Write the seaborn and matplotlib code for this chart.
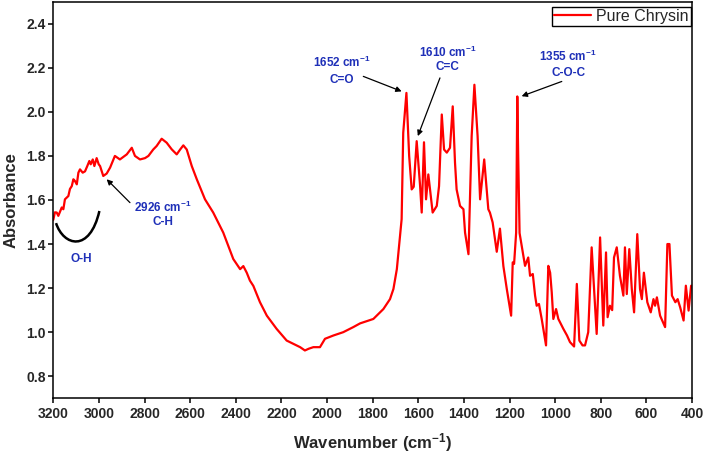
# FTIR spectrum of pure chrysin
import matplotlib
matplotlib.use('Agg')
import matplotlib.pyplot as plt
from matplotlib import rc
from matplotlib.path import Path
from matplotlib.patches import PathPatch
import pandas as pd
import seaborn as sns

# wavenumber (cm-1), high to low like the instrument export
wavenumber = [3200, 3193, 3185, 3178, 3163, 3156, 3149, 3134, 3127, 3119,
              3112, 3105, 3097, 3090, 3083, 3071, 3061, 3051, 3042, 3036,
              3027, 3020, 3010, 3001, 2995, 2981, 2966,
              2951, 2930, 2908, 2878, 2856, 2842, 2820, 2798, 2783, 2762,
              2747, 2725, 2703, 2681, 2659, 2644, 2630, 2615, 2593, 2571,
              2535, 2499, 2455, 2411, 2381, 2367, 2352, 2338, 2323, 2294,
              2264, 2221, 2177, 2118, 2097, 2080, 2060, 2031, 2009, 1972,
              1929, 1885, 1855, 1797, 1753, 1724, 1709, 1694, 1680, 1673,
              1666, 1652, 1640, 1629, 1620, 1607, 1595, 1592, 1585, 1575,
              1566, 1556, 1537, 1519, 1509, 1497, 1487, 1475, 1461, 1449,
              1439, 1432, 1417, 1402, 1395, 1380, 1366, 1354, 1340, 1329,
              1311, 1293, 1286, 1274, 1256, 1242, 1227, 1212, 1193, 1186,
              1180, 1171, 1166, 1162, 1156, 1132, 1118, 1110, 1098, 1088,
              1081, 1071, 1059, 1040, 1030, 1022, 1015, 1008, 996, 986,
              964, 948, 935, 917, 905, 894, 880, 869, 855, 840,
              818, 803, 789, 777, 770, 760, 750, 742, 730, 716,
              701, 694, 686, 675, 664, 654, 640, 628, 620, 611,
              596, 581, 569, 562, 554, 540, 518, 508, 499, 488,
              473, 463, 452, 437, 427, 415, 404, 400]

absorbance = [1.51, 1.544, 1.543, 1.528, 1.566, 1.558, 1.603, 1.618, 1.65, 1.663,
              1.694, 1.686, 1.671, 1.724, 1.739, 1.724, 1.73, 1.754, 1.777, 1.762,
              1.784, 1.754, 1.79, 1.762, 1.754, 1.709, 1.72,
              1.747, 1.80, 1.784, 1.807, 1.837, 1.80, 1.784, 1.79, 1.80, 1.829,
              1.845, 1.878, 1.86, 1.83, 1.807, 1.829, 1.848, 1.829, 1.754, 1.694,
              1.603, 1.543, 1.452, 1.332, 1.286, 1.30, 1.27, 1.234, 1.21, 1.136,
              1.075, 1.015, 0.962, 0.932, 0.917, 0.925, 0.932, 0.932, 0.97, 0.985,
              1.0, 1.023, 1.04, 1.06, 1.105, 1.15, 1.196, 1.286, 1.437, 1.513,
              1.905, 2.086, 1.80, 1.648, 1.66, 1.867, 1.70, 1.663, 1.543, 1.862,
              1.603, 1.716, 1.543, 1.573, 1.663, 1.988, 1.829, 1.815, 1.837, 2.025,
              1.769, 1.648, 1.573, 1.558, 1.452, 1.354, 1.89, 2.123, 1.89, 1.603,
              1.784, 1.558, 1.543, 1.498, 1.365, 1.47, 1.30, 1.196, 1.075, 1.317,
              1.31, 1.452, 2.07, 1.80, 1.45, 1.301, 1.339, 1.256, 1.264, 1.166,
              1.12, 1.128, 1.06, 0.94, 1.301, 1.27, 1.181, 1.06, 1.105, 1.06,
              1.015, 0.985, 0.955, 0.935, 1.219, 0.962, 0.94, 0.94, 1.0, 1.385,
              0.992, 1.43, 1.03, 1.362, 1.068, 1.12, 1.10, 1.339, 1.385, 1.256,
              1.166, 1.385, 1.173, 1.377, 1.196, 1.09, 1.445, 1.196, 1.15, 1.27,
              1.136, 1.09, 1.15, 1.12, 1.158, 1.075, 1.023, 1.40, 1.40, 1.166,
              1.136, 1.15, 1.113, 1.053, 1.211, 1.098, 1.211, 1.21]

x_ticks = list(range(3200, 399, -200))
y_ticks = [0.8, 1.0, 1.2, 1.4, 1.6, 1.8, 2.0, 2.2, 2.4]

# band labels: (first line, second line, text x, text y1, text y2, arrow tail, arrow head)
bands = [
    ('1652 cm$^{-1}$', 'C=O', 1936, 2.225, 2.144, (1841, 2.161), (1673, 2.093)),
    ('1610 cm$^{-1}$', 'C=C', 1472, 2.271, 2.203, (1505, 2.154), (1602, 1.890)),
    ('1355 cm$^{-1}$', 'C-O-C', 943, 2.252, 2.176, (971, 2.138), (1147, 2.071)),
    ('2926 cm$^{-1}$', 'C-H', 2718, 1.566, 1.501, (2864, 1.588), (2966, 1.694)),
]

df = pd.DataFrame({'Wavenumber': wavenumber, 'Absorbance': absorbance})

sns.set_style('ticks')
rc('mathtext', default='regular')
plt.rcParams['font.family'] = ['Liberation Sans', 'DejaVu Sans']

fig = plt.figure(figsize=(7.06, 4.58), dpi=100)
ax = fig.add_axes([0.0755, 0.1304, 0.9047, 0.8659])

sns.lineplot(data=df, x='Wavenumber', y='Absorbance', ax=ax, color='#ff0000',
             linewidth=1.6, estimator=None, sort=False, label='Pure Chrysin')

ax.set_xlim(3200, 400)
ax.set_ylim(0.7, 2.5)
ax.set_xticks(x_ticks)
ax.set_yticks(y_ticks)
ax.set_yticklabels([f'{t:.1f}' for t in y_ticks])

for s in ax.spines.values():
    s.set_visible(True)
    s.set_color('black')
    s.set_linewidth(1.1)
ax.tick_params(direction='out', length=3.6, width=1.1, labelsize=10, color='black')
ax.tick_params(axis='x', pad=3)
ax.tick_params(axis='y', pad=2)
for lab in ax.get_xticklabels() + ax.get_yticklabels():
    lab.set_fontweight('bold')

ax.set_xlabel('Wavenumber (cm$^{-1}$)', fontsize=12, fontweight='bold')
ax.set_ylabel('Absorbance', fontsize=12, fontweight='bold')
ax.xaxis.set_label_coords(0.5, -0.082)
ax.yaxis.set_label_coords(-0.055, 0.5)

blue = '#1f30b8'
for t1, t2, tx, ty1, ty2, tail, head in bands:
    ax.text(tx, ty1, t1, color=blue, fontsize=8.5, fontweight='bold', ha='center', va='center')
    ax.text(tx, ty2, t2, color=blue, fontsize=8.5, fontweight='bold', ha='center', va='center')
    ax.annotate('', xy=head, xytext=tail,
                arrowprops=dict(arrowstyle='-|>', color='black', lw=0.9,
                                mutation_scale=8, shrinkA=0, shrinkB=0))

# O-H hump drawn as a black curve
oh = Path([(3188, 1.495), (3155, 1.39), (3040, 1.36), (2998, 1.55)],
          [Path.MOVETO, Path.CURVE4, Path.CURVE4, Path.CURVE4])
ax.add_patch(PathPatch(oh, facecolor='none', edgecolor='black', lw=1.8))
ax.text(3077, 1.332, 'O-H', color=blue, fontsize=8.5, fontweight='bold', ha='center', va='center')

leg = ax.legend(loc='upper right', bbox_to_anchor=(0.998, 0.9874), borderaxespad=0,
                fancybox=False, edgecolor='black', framealpha=1, fontsize=11.5,
                borderpad=0.15, handlelength=2.3, handletextpad=0.3)
leg.get_frame().set_linewidth(1.0)

fig.savefig('out.png', dpi=100)
